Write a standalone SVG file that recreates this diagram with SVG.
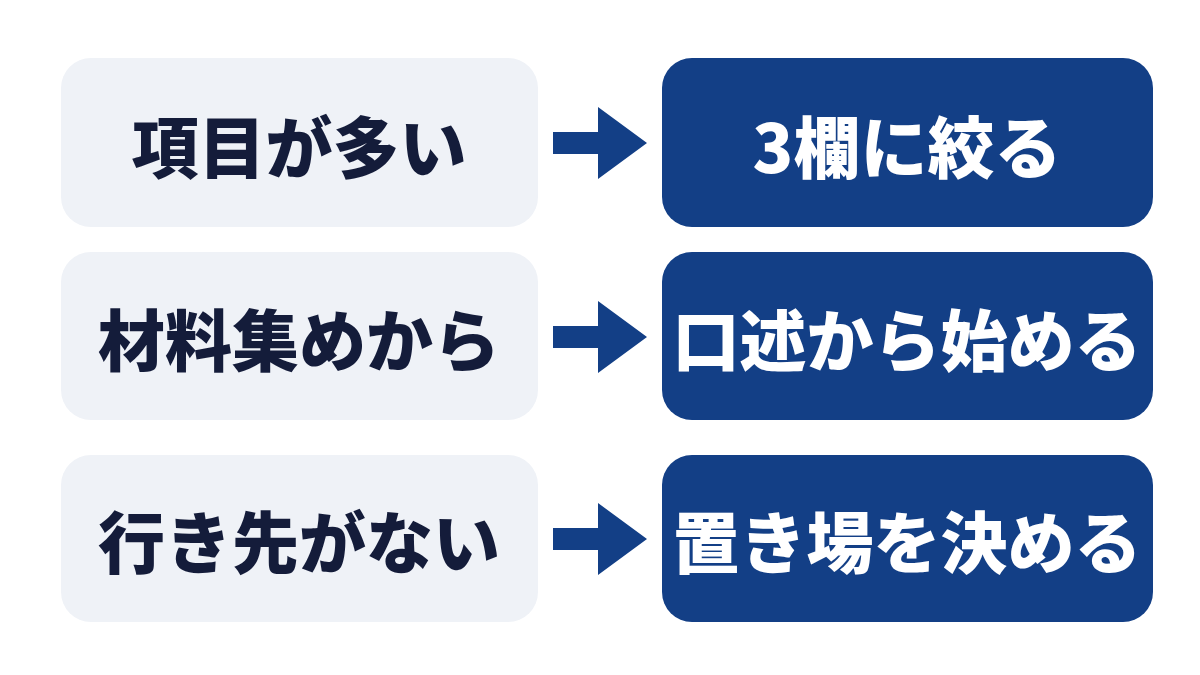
<svg xmlns="http://www.w3.org/2000/svg" width="1200" height="675" viewBox="0 0 1200 675">
<style>
.l{fill:#eff2f7}
.r{fill:#133f86}
.t{font-family:"Noto Sans CJK JP","Noto Sans",sans-serif;font-weight:900;font-size:67px;text-anchor:middle;dominant-baseline:central}
.lt{fill:#141c3a}
.rt{fill:#ffffff}
.a{fill:#133f86}
</style>
<rect width="1200" height="675" fill="#ffffff"/>
<g id="n1"><rect class="l" x="61" y="58" width="477" height="169" rx="30"/><text class="t lt" x="299" y="143">項目が多い</text></g>
<g id="n2"><rect class="r" x="662" y="58" width="491" height="169" rx="30"/><text class="t rt" x="907" y="143">3欄に絞る</text></g>
<g id="n3"><rect class="l" x="61" y="252" width="477" height="168" rx="30"/><text class="t lt" x="299" y="336">材料集めから</text></g>
<g id="n4"><rect class="r" x="662" y="252" width="491" height="168" rx="30"/><text class="t rt" x="907" y="336">口述から始める</text></g>
<g id="n5"><rect class="l" x="61" y="455" width="477" height="167" rx="30"/><text class="t lt" x="299" y="538">行き先がない</text></g>
<g id="n6"><rect class="r" x="662" y="455" width="491" height="167" rx="30"/><text class="t rt" x="907" y="538">置き場を決める</text></g>
<g id="connectors">
<polygon class="a" points="553,132 598,132 598,107 647,143 598,179 598,154 553,154"/>
<polygon class="a" points="553,326 598,326 598,301 647,337 598,373 598,348 553,348"/>
<polygon class="a" points="553,528 598,528 598,503 647,539 598,575 598,550 553,550"/>
</g>
</svg>
